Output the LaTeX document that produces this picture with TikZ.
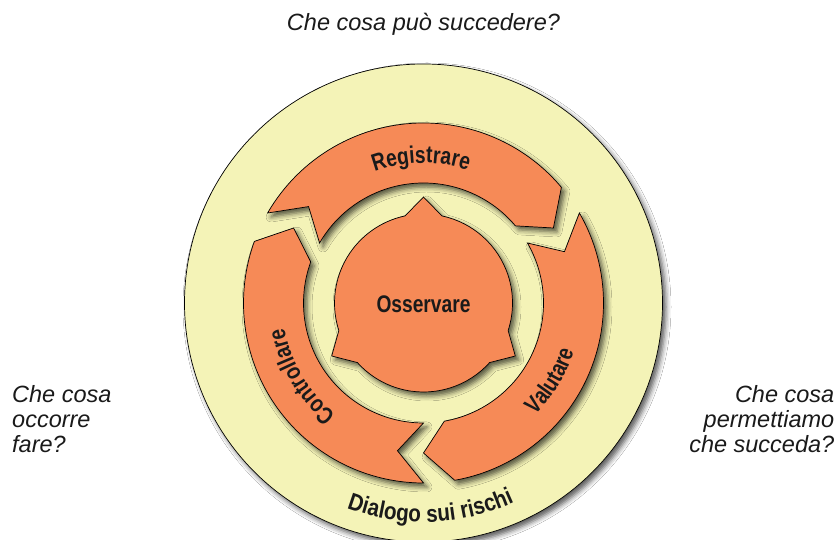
\documentclass[tikz,border=0pt]{standalone}
\usepackage{fontspec}
\setmainfont{Liberation Sans}
\newfontfamily\condbf[FakeStretch=0.8]{Liberation Sans}
\newfontfamily\condbfw[FakeStretch=0.86]{Liberation Sans}
\usetikzlibrary{decorations.text,shadows.blur}
\definecolor{ryellow}{HTML}{F4F3B7}
\definecolor{rorange}{HTML}{F68A57}
\definecolor{rtext}{HTML}{1A1A1A}
\tikzset{
  softshadow/.style={blur shadow={shadow xshift=3.5pt, shadow yshift=-4pt, shadow blur radius=5pt, shadow opacity=65}},
  piece/.style={fill=rorange, draw=black, line width=0.7pt, softshadow},
  disc/.style={fill=ryellow, draw=black, line width=0.7pt, softshadow},
  question/.style={font=\fontsize{23.5}{25}\selectfont\itshape, text=rtext, inner sep=0pt},
  label/.style={font=\condbf\bfseries\fontsize{24}{24}\selectfont, text=rtext, inner sep=0pt},
  arctext/.style={decorate, decoration={text along path, text align=center, text color=rtext, text={|\condbf\bfseries\fontsize{24}{24}\selectfont|#1}}},
  arctextw/.style={decorate, decoration={text along path, text align=center, text color=rtext, text={|\condbfw\bfseries\fontsize{24}{24}\selectfont|#1}}}
}
\begin{document}
\begin{tikzpicture}[x=1pt,y=1pt]
  \useasboundingbox (0,0) rectangle (839,540);
  \fill[white] (0,0) rectangle (839,540);
  \clip (0,0) rectangle (839,540);

  % questions
  \node[question, anchor=base] (qtop) at (423.5,509) {Che cosa può succedere?};
  \node[question, anchor=base west] (qleft) at (12,137) {\begin{tabular}[t]{@{}l@{}}Che cosa\\occorre\\fare?\end{tabular}};
  \node[question, anchor=base east] (qright) at (834.5,137) {\begin{tabular}[t]{@{}r@{}}Che cosa\\permettiamo\\che succeda?\end{tabular}};

  \begin{scope}[shift={(423.5,237)}]
    % outer disc
    \path[disc] (0,0) circle[radius=239];

    % central shape
    \path[piece] (102:89) -- (90:106) -- (78:89)
      arc[start angle=78, end angle=-18, radius=89] -- (-30:106) -- (-42:89)
      arc[start angle=-42, end angle=-138, radius=89] -- (-150:106) -- (-162:89)
      arc[start angle=-162, end angle=-258, radius=89] -- cycle;

    % arrows of the cycle
    \path[piece] (150:180) arc[start angle=150, end angle=40, radius=180] -- (30:150) -- (40:120)
      arc[start angle=40, end angle=150, radius=120] -- (140:150) -- cycle;
    \path[piece] (30:180) arc[start angle=30, end angle=-80, radius=180] -- (-90:150) -- (-80:120)
      arc[start angle=-80, end angle=30, radius=120] -- (20:150) -- cycle;
    \path[piece] (-90:180) arc[start angle=-90, end angle=-200, radius=180] -- (-210:150) -- (-200:120)
      arc[start angle=-200, end angle=-90, radius=120] -- (-100:150) -- cycle;

    % labels
    \node[label] (oss) at (0,-1) {Osservare};
    \path[arctext=Registrare] (136:140) arc[start angle=136, end angle=46, radius=140];
    \path[arctext=Valutare] (-76.5:158) arc[start angle=-76.5, end angle=13.5, radius=158];
    \path[arctext=Controllare] (256:141.5) arc[start angle=256, end angle=166, radius=141.5];
    \path[arctextw=Dialogo sui rischi] (-133:219) arc[start angle=-133, end angle=-43, radius=219];
  \end{scope}
\end{tikzpicture}
\end{document}
